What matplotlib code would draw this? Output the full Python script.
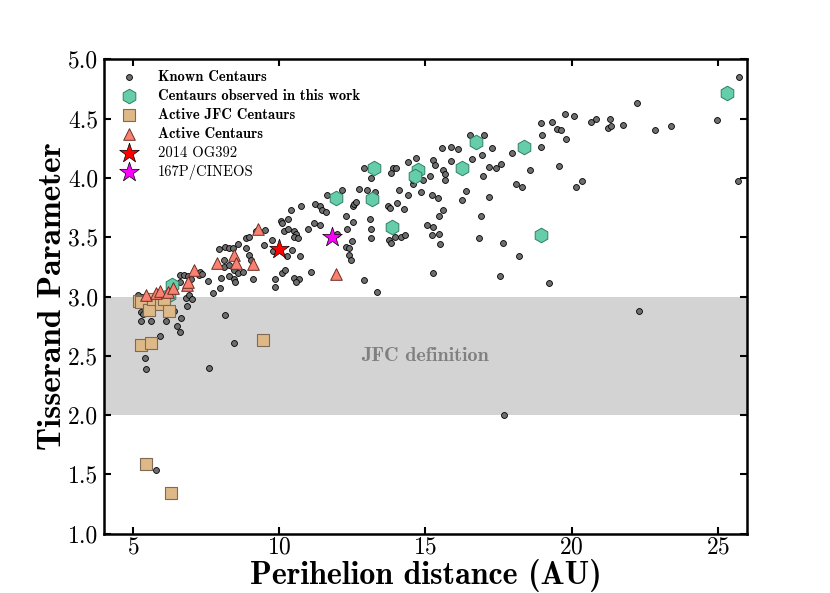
import numpy as np
import matplotlib
matplotlib.use('Agg')
import matplotlib.pyplot as plt

plt.rcParams['font.family'] = 'cmr10'
plt.rcParams['axes.formatter.use_mathtext'] = True
plt.rcParams['mathtext.fontset'] = 'cm'

# known centaurs: perihelion distance (AU), Tisserand parameter
known_q = [
    5.17, 5.30, 5.27, 5.28, 5.34, 5.40, 5.45, 5.63, 5.77, 5.94, 6.14, 6.39, 6.49,
    6.62, 6.63, 6.60, 6.62, 6.73, 6.82, 6.85, 6.88, 6.91, 7.00, 7.03, 7.26, 7.28,
    7.36, 7.56, 7.59, 7.74, 7.97, 7.95, 8.02, 8.10, 8.12, 8.16, 8.28, 8.42, 8.29,
    8.28, 8.16, 8.44, 8.44, 8.49, 8.44, 8.58, 8.75, 8.60, 8.87, 8.87, 8.98, 8.96,
    9.03, 9.10, 9.21, 9.52, 9.48, 9.75, 9.80, 9.85, 9.85, 10.05, 10.08, 10.29,
    10.16, 10.31, 10.52, 10.56, 10.51, 10.65, 10.10, 10.19, 10.51, 10.67, 10.56,
    10.71, 10.45, 10.28, 10.40, 10.74, 10.97, 11.10, 11.19, 11.38, 11.23, 11.40,
    11.45, 11.61, 11.65, 11.97, 12.15, 12.29, 12.31, 12.53, 12.49, 12.29, 12.38,
    12.40, 12.47, 12.52, 12.57, 12.64, 12.72, 12.89, 13.01, 13.13, 13.27, 13.11,
    13.15, 13.14, 12.90, 13.35, 13.73, 13.79, 13.77, 13.83, 13.95, 14.16, 14.30,
    14.04, 14.28, 13.88, 14.00, 13.84, 14.10, 14.40, 14.85, 14.57, 14.59, 14.91,
    14.40, 14.67, 15.25, 15.34, 15.60, 15.68, 15.67, 15.17, 15.23, 15.43, 15.60,
    15.48, 15.07, 15.25, 15.22, 15.46, 15.51, 15.26, 15.56, 15.86, 15.89, 16.12,
    16.53, 16.61, 16.93, 16.98, 17.01, 17.19, 17.27, 17.40, 17.60, 17.97, 16.39,
    16.25, 17.17, 16.90, 16.84, 17.66, 18.21, 17.56, 17.70, 18.11, 18.32, 18.59,
    18.94, 18.98, 18.94, 19.32, 19.50, 19.64, 19.82, 19.58, 19.76, 20.07, 20.16,
    20.37, 19.24, 20.68, 20.85, 21.32, 21.25, 21.34, 21.76, 22.24, 22.85, 23.40,
    22.29, 24.97, 25.72, 25.69,
]
known_t = [
    3.01, 3.00, 2.79, 2.87, 2.85, 2.48, 2.39, 2.79, 1.54, 2.67, 2.79, 2.88, 2.75,
    2.70, 2.82, 3.18, 3.12, 3.18, 2.99, 2.92, 3.17, 3.01, 3.15, 2.98, 3.18, 3.21,
    3.19, 3.13, 2.40, 3.03, 3.07, 3.40, 3.16, 3.245, 3.31, 3.42, 3.41, 3.41, 3.265,
    3.17, 2.84, 2.61, 3.15, 3.12, 3.22, 3.20, 3.21, 3.44, 3.49, 3.41, 3.50, 3.35,
    3.31, 3.15, 3.55, 3.56, 3.435, 3.48, 3.38, 3.15, 3.08, 3.64, 3.62, 3.65,
    3.55, 3.57, 3.55, 3.53, 3.50, 3.49, 3.20, 3.22, 3.16, 3.15, 3.12,
    3.34, 3.39, 3.34, 3.73, 3.76, 3.57, 3.21, 3.62, 3.60, 3.78, 3.76,
    3.73, 3.71, 3.86, 3.53, 3.90, 3.68, 3.57, 3.63, 3.47, 3.42, 3.41,
    3.35, 3.31, 3.76, 3.78, 3.80, 3.91, 4.08, 3.90, 4.00, 3.88, 3.65,
    3.57, 3.49, 3.14, 3.04, 3.76, 3.75, 3.48, 3.45, 3.50, 3.50, 3.52,
    3.79, 3.74, 4.08, 4.08, 4.04, 3.90, 3.86, 3.88, 3.95, 3.98, 3.98,
    4.13, 4.17, 4.15, 4.11, 4.07, 4.03, 3.98, 4.02, 3.86, 3.83, 3.73,
    3.68, 3.60, 3.59, 3.52, 3.53, 3.44, 3.20, 4.25, 4.26, 4.14, 4.24,
    4.36, 4.16, 4.19, 4.02, 4.36, 4.09, 4.25, 4.08, 4.12, 4.21, 3.89,
    3.81, 3.84, 3.68, 3.49, 3.45, 3.34, 3.17, 2.00, 3.95, 3.92, 4.07,
    4.26, 4.36, 4.46, 4.47, 4.41, 4.40, 4.33, 4.10, 4.54, 4.52, 3.92,
    3.97, 3.11, 4.47, 4.50, 4.50, 4.42, 4.44, 4.45, 4.63, 4.40, 4.44,
    2.88, 4.49, 4.85, 3.97,
]

# centaurs observed in this work
obs_q = [6.35, 6.22, 11.94, 13.16, 13.23, 13.85, 14.74, 14.65, 16.25, 16.74, 18.36, 18.96, 25.31]
obs_t = [3.10, 3.01, 3.83, 3.82, 4.08, 3.59, 4.07, 4.02, 4.08, 4.30, 4.26, 3.52, 4.72]

# active JFC centaurs
jfc_q = [5.21, 5.29, 5.55, 5.68, 5.97, 6.05, 6.22, 5.29, 5.60, 9.46, 5.45, 6.31]
jfc_t = [2.96, 2.95, 2.89, 2.98, 2.94, 2.98, 2.88, 2.59, 2.61, 2.63, 1.59, 1.34]

# active centaurs
act_q = [5.46, 5.80, 5.94, 6.19, 6.37, 6.85, 6.89, 7.07, 7.89, 8.44, 8.54, 9.12, 9.29, 11.93]
act_t = [3.01, 3.03, 3.05, 3.04, 3.07, 3.10, 3.12, 3.22, 3.28, 3.35, 3.28, 3.27, 3.57, 3.19]

og392_q, og392_t = [10.0], [3.40]
cineos_q, cineos_t = [11.8], [3.50]

fig = plt.figure(figsize=(8.3, 5.93), dpi=100)
fig.subplots_adjust(left=0.125, right=0.9, bottom=0.1, top=0.9)
ax = fig.add_subplot(111)

ax.axhspan(2.0, 3.0, color='lightgrey', lw=0, zorder=0)
ax.text(15.0, 2.5, 'JFC definition', fontfamily='cmb10', fontsize=14.5,
        color='grey', ha='center', va='center')

ax.scatter(known_q, known_t, s=18, c='#6e6e6e', edgecolors='k', linewidths=0.6,
           label='Known Centaurs', zorder=2)
ax.scatter(obs_q, obs_t, s=110, marker='h', c='mediumaquamarine', edgecolors='#2f7f64',
           linewidths=0.7, label='Centaurs observed in this work', zorder=3)
ax.scatter(jfc_q, jfc_t, s=75, marker='s', c='burlywood', edgecolors='#7f6a55',
           linewidths=0.8, label='Active JFC Centaurs', zorder=4)
ax.scatter(act_q, act_t, s=70, marker='^', c='salmon', edgecolors='#6b2e25',
           linewidths=0.7, label='Active Centaurs', zorder=5)
ax.scatter(og392_q, og392_t, s=220, marker='*', c='red', edgecolors='k',
           linewidths=0.5, label='2014 OG392', zorder=6)
ax.scatter(cineos_q, cineos_t, s=220, marker='*', c='magenta', edgecolors='k',
           linewidths=0.5, label='167P/CINEOS', zorder=6)

ax.set_xlim(4, 26)
ax.set_ylim(1.0, 5.0)
ax.set_xticks([5, 10, 15, 20, 25])
ax.set_yticks(np.arange(1.0, 5.01, 0.5))
ax.set_yticklabels(['%.1f' % v for v in np.arange(1.0, 5.01, 0.5)])
ax.tick_params(direction='in', length=5, width=1.5, top=True, right=True,
               labelsize=17)
ax.tick_params(axis='x', pad=2)
ax.tick_params(axis='y', pad=4)
for sp in ax.spines.values():
    sp.set_linewidth(1.8)

ax.set_xlabel('Perihelion distance (AU)', fontfamily='cmb10', fontsize=23, labelpad=0)
ax.set_ylabel('Tisserand Parameter', fontfamily='cmb10', fontsize=24, labelpad=1)

leg = ax.legend(loc='upper left', frameon=False, scatterpoints=1, fontsize=10.5,
                handletextpad=1.0, labelspacing=0.35, borderaxespad=0.3)
for i, t in enumerate(leg.get_texts()):
    if i < 4:
        t.set_fontfamily('cmb10')

fig.savefig('out.png', dpi=100)
